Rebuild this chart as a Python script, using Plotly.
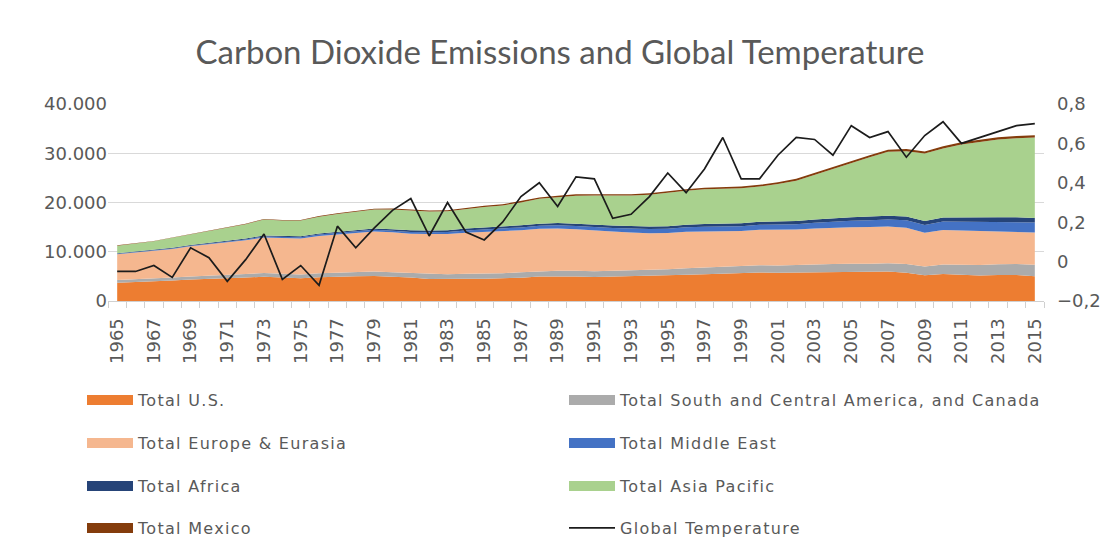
import plotly.graph_objects as go

# Years on the category axis
years = list(range(1965, 2016))

# CO2 emissions by region (million tonnes)
us = [3700, 3820, 3950, 4150, 4350, 4450, 4550, 4750, 4940, 4750,
      4600, 4800, 4940, 5010, 5060, 4920, 4750, 4450, 4400, 4500,
      4520, 4560, 4740, 4950, 5010, 4980, 4880, 4950, 5020, 5100,
      5150, 5330, 5450, 5550, 5620, 5800, 5720, 5760, 5830, 5930,
      5960, 5890, 5970, 5750, 5250, 5500, 5380, 5200, 5260, 5300,
      5050]
south_central_canada = [550, 570, 590, 620, 650, 680, 700, 730, 760, 780,
                        790, 820, 850, 880, 920, 920, 930, 1000, 1010, 1030,
                        1050, 1070, 1090, 1110, 1130, 1150, 1170, 1190, 1210, 1250,
                        1290, 1330, 1380, 1410, 1430, 1460, 1480, 1490, 1520, 1570,
                        1620, 1660, 1720, 1770, 1760, 1920, 2000, 2100, 2180, 2230,
                        2300]
europe_eurasia = [5250, 5420, 5580, 5800, 6100, 6400, 6600, 6850, 7200, 7250,
                  7300, 7600, 7750, 7950, 8150, 8100, 8000, 8150, 8200, 8350,
                  8450, 8500, 8550, 8600, 8600, 8450, 8250, 7950, 7700, 7400,
                  7350, 7400, 7300, 7250, 7150, 7200, 7250, 7250, 7380, 7420,
                  7400, 7500, 7450, 7350, 6850, 7000, 6950, 6900, 6780, 6600,
                  6550]
middle_east = [90, 100, 105, 115, 130, 145, 160, 180, 200, 210,
               230, 260, 280, 300, 320, 330, 350, 380, 420, 460,
               500, 530, 560, 600, 630, 650, 680, 740, 800, 850,
               880, 900, 930, 960, 990, 1020, 1060, 1100, 1150, 1220,
               1300, 1370, 1420, 1510, 1580, 1700, 1760, 1830, 1900, 1960,
               2050]
africa = [130, 135, 140, 150, 160, 175, 185, 200, 215, 220,
          230, 245, 260, 275, 290, 310, 330, 340, 350, 370,
          390, 400, 420, 440, 450, 470, 480, 490, 500, 510,
          530, 540, 560, 570, 580, 600, 620, 630, 660, 690,
          720, 730, 750, 780, 790, 820, 820, 850, 870, 890,
          900]
asia_pacific = [1520, 1590, 1770, 1990, 2130, 2370, 2610, 2890, 3230, 3120,
                3170, 3385, 3570, 3685, 3820, 4010, 4010, 3840, 3840, 4000,
                4195, 4350, 4640, 5045, 5260, 5670, 5950, 6035, 6170, 6475,
                6845, 6890, 7050, 7010, 7135, 7160, 7610, 8205, 9085, 10090,
                11050, 12035, 12970, 13260, 13695, 14030, 14890, 15460, 15805, 16070,
                16345]
mexico = [60, 63, 67, 72, 78, 85, 92, 100, 110, 120,
          130, 140, 150, 170, 190, 210, 230, 240, 230, 240,
          245, 240, 250, 255, 270, 280, 290, 295, 300, 315,
          305, 310, 330, 350, 345, 360, 360, 365, 375, 380,
          400, 415, 420, 430, 425, 430, 450, 460, 455, 450,
          455]

# Global temperature anomaly (right axis)
temperature = [-0.05, -0.05, -0.02, -0.08, 0.07, 0.02, -0.10, 0.01, 0.14, -0.09,
               -0.02, -0.12, 0.18, 0.07, 0.17, 0.26, 0.32, 0.13, 0.30, 0.15,
               0.11, 0.20, 0.33, 0.40, 0.28, 0.43, 0.42, 0.22, 0.24, 0.33,
               0.45, 0.35, 0.47, 0.63, 0.42, 0.42, 0.54, 0.63, 0.62, 0.54,
               0.69, 0.63, 0.66, 0.53, 0.64, 0.71, 0.60, 0.63, 0.66, 0.69,
               0.70]

regions = [
    ("Total U.S.", us, "#ED7D31"),
    ("Total South and Central America, and Canada", south_central_canada, "#ABABAB"),
    ("Total Europe & Eurasia", europe_eurasia, "#F5B78F"),
    ("Total Middle East", middle_east, "#4472C4"),
    ("Total Africa", africa, "#264478"),
    ("Total Asia Pacific", asia_pacific, "#A9D18E"),
    ("Total Mexico", mexico, "#843C0C"),
]

TEXT = "#595959"
FONT = "DejaVu Sans"


def spaced(label):
    # slightly tracked-out legend text
    return '<span style="letter-spacing:1.3px">' + label + "</span>"


# legend rows: two entries per row, each row its own legend box
legend_names = ["legend", "legend2", "legend3", "legend4"]

fig = go.Figure()

for i, (name, vals, color) in enumerate(regions):
    fig.add_trace(go.Scatter(
        x=years, y=vals, name=name, stackgroup="co2",
        mode="lines", line=dict(width=0, color=color), fillcolor=color,
        legendgroup=name, showlegend=False,
        hovertemplate="%{x}: %{y:,d}<extra>" + name + "</extra>",
    ))
    # legend swatch for the stacked area
    fig.add_trace(go.Scatter(
        x=[None], y=[None], name=spaced(name), mode="lines",
        line=dict(width=12, color=color), legendgroup=name,
        legend=legend_names[i // 2], hoverinfo="skip",
    ))

fig.add_trace(go.Scatter(
    x=years, y=temperature, name=spaced("Global Temperature"), yaxis="y2",
    mode="lines", line=dict(color="#1c1c1c", width=1.7),
    legend=legend_names[3],
    hovertemplate="%{x}: %{y}<extra>Global Temperature</extra>",
))

# plot area in pixels: x 108..1044, y 104..301
L, R, T, B = 108, 1044, 104, 301
W, H = 1103, 559


def lx(px):
    return (px - L) / (R - L)


def ly(py):
    return (B - py) / (B - T)


row_y = [400, 443, 486, 528]
legend_common = dict(
    orientation="h", xanchor="left", yanchor="middle",
    font=dict(family=FONT, size=16, color=TEXT),
    entrywidth=421, entrywidthmode="pixels", itemwidth=46,
    bgcolor="rgba(0,0,0,0)", traceorder="normal",
)

layout_legends = {}
for name, py in zip(legend_names, row_y):
    layout_legends[name] = dict(legend_common, x=lx(82), y=ly(py))

tick_font = dict(family=FONT, size=18, color=TEXT)

fig.update_layout(
    width=W, height=H,
    margin=dict(l=L, r=W - R, t=T, b=H - B, pad=0, autoexpand=False),
    paper_bgcolor="white", plot_bgcolor="white",
    separators=",.",
    font=dict(family=FONT, color=TEXT),
    title=dict(
        text="Carbon Dioxide Emissions and Global Temperature",
        font=dict(family="Lato", size=33, color=TEXT),
        x=560 / W, xanchor="center", xref="container",
        y=1 - 52 / H, yanchor="middle", yref="container",
    ),
    xaxis=dict(
        range=[1964.5, 2015.5], tickmode="array",
        tickvals=years[::2], tickangle=-90, automargin=False,
        ticks="", showgrid=False, zeroline=False,
        showline=True, linecolor="#D0D0D0", linewidth=1,
        tickfont=tick_font,
        ticklabelstandoff=9,
        minor=dict(tick0=1964.5, dtick=1, ticks="outside", ticklen=6,
                   tickcolor="#D0D0D0", tickwidth=1, showgrid=False),
    ),
    yaxis=dict(
        range=[0, 40000], dtick=10000, tick0=0, tickformat=",d",
        automargin=False,
        showgrid=True, gridcolor="#D9D9D9", gridwidth=1,
        zeroline=False, showline=False, ticks="",
        tickfont=tick_font,
        ticklabelstandoff=0,
    ),
    yaxis2=dict(
        range=[-0.2, 0.8], dtick=0.2, tick0=0, overlaying="y", side="right",
        automargin=False,
        showgrid=False, zeroline=False, showline=False, ticks="",
        tickfont=tick_font,
        ticklabelstandoff=12,
    ),
    hovermode="x",
    **layout_legends,
)

fig.write_html("out.html")
